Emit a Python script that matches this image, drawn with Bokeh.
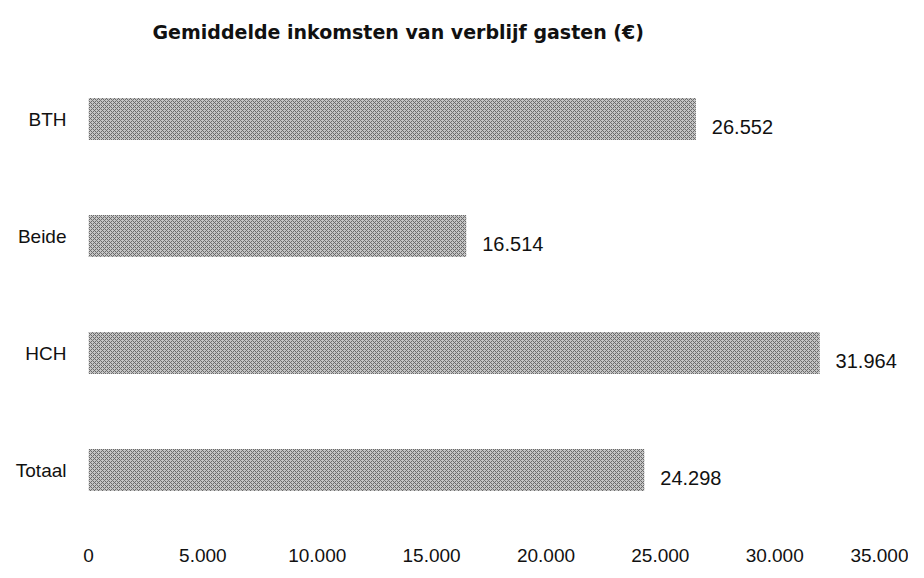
from bokeh.plotting import figure
from bokeh.models import FactorRange, FixedTicker, ColumnDataSource, Title
from bokeh.core.properties import value
from bokeh.embed import file_html
from bokeh.resources import INLINE

categories = ["BTH", "Beide", "HCH", "Totaal"]
values = [26552, 16514, 31964, 24298]
tick_values = [0, 5000, 10000, 15000, 20000, 25000, 30000, 35000]
tick_labels = ["0", "5.000", "10.000", "15.000", "20.000", "25.000", "30.000", "35.000"]
title_text = "Gemiddelde inkomsten van verblijf gasten (€)"

labels = [f"{v:,}".replace(",", ".") for v in values]
src = ColumnDataSource(dict(cat=categories, val=values, lab=labels))

FONT = "Liberation Sans"

p = figure(width=908, height=566, output_backend="svg", toolbar_location=None,
           y_range=FactorRange(factors=list(reversed(categories)), range_padding=0),
           x_range=(0, 35500),
           min_border_left=88, min_border_right=8, min_border_bottom=38,
           min_border_top=60)
p.outline_line_color = None
p.grid.grid_line_color = None

p.hbar(y="cat", right="val", left=0, height=0.36, source=src,
       fill_color="#c4c4c4", line_color=None,
       hatch_pattern="diagonal_cross", hatch_color="#6a6a6a",
       hatch_scale=4, hatch_weight=1)

p.text(x="val", y="cat", text="lab", source=src, x_offset=16, y_offset=8,
       text_baseline="middle", text_align="left",
       text_font=value(FONT), text_font_size="20px", text_color="#111111")

p.xaxis.ticker = FixedTicker(ticks=tick_values)
p.xaxis.major_label_overrides = {t: l for t, l in zip(tick_values, tick_labels)}
for ax in (p.xaxis, p.yaxis):
    ax.axis_line_color = None
    ax.major_tick_line_color = None
    ax.minor_tick_line_color = None
    ax.major_label_text_font = FONT
    ax.major_label_text_color = "#111111"
p.xaxis.major_label_text_font_size = "19px"
p.xaxis.major_label_standoff = 14
p.yaxis.major_label_text_font_size = "19px"
p.yaxis.major_label_standoff = 16

t = Title(text=title_text, align="left", offset=64, text_font="DejaVu Sans",
          text_font_size="19px", text_font_style="bold", text_color="#111111",
          standoff=36)
p.add_layout(t, "above")

open("out.html", "w").write(file_html(p, INLINE))
